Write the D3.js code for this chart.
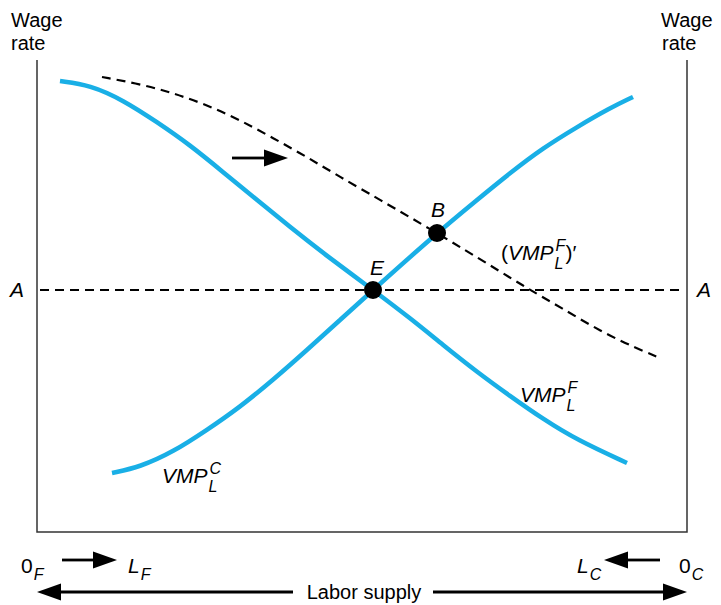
<!DOCTYPE html>
<html><head><meta charset="utf-8">
<script src="https://cdn.jsdelivr.net/npm/d3@7"></script>
<style>body{margin:0;background:#fff}svg{display:block}text{font-family:"Liberation Sans",Arial,sans-serif;fill:#000}</style>
</head><body>
<svg id="c" width="721" height="605"></svg>
<script>
// data (labor units measured from 0_F, wage units)
const vmpF = [[23,451],[53,447],[86,432],[120,410],[153,387],[186,360],[220,332],[253,305],[286,279],[336,242],[373,214],[406,187],[440,160],[473,136],[506,113],[540,92],[590,69]];
const vmpC = [[75,59],[103,65],[136,80],[170,102],[203,125],[236,152],[270,182],[303,212],[336,242],[400,299],[440,332],[473,359],[506,384],[540,405],[573,424],[596,435]];
const vmpFShift = [[65,455],[103,448],[136,439],[170,427],[203,412],[236,394],[270,375],[303,355],[340,334],[400,299],[456,265],[488,245],[523,225],[573,195],[623,174]];
const wageA = 242;
const points = [{name:"E", x:336, y:242},{name:"B", x:400, y:299}];
const laborTotal = 650, wageMax = 472;

const svg = d3.select("#c");
const x = d3.scaleLinear().domain([0, laborTotal]).range([37, 687]);
const y = d3.scaleLinear().domain([0, wageMax]).range([532, 60]);

// frame
svg.append("path").attr("d", `M${x(0)},${y(wageMax)}V${y(0)}H${x(laborTotal)}V${y(wageMax)}`)
  .attr("fill","none").attr("stroke","#333").attr("stroke-width",1.5);

// A line
svg.append("line").attr("x1", x(3)).attr("x2", x(laborTotal-3)).attr("y1", y(wageA)).attr("y2", y(wageA))
  .attr("stroke","#000").attr("stroke-width",2.2).attr("stroke-dasharray","9,6");

const line = d3.line().x(d=>x(d[0])).y(d=>y(d[1])).curve(d3.curveBasis);
svg.append("path").attr("d", line(vmpFShift)).attr("fill","none").attr("stroke","#000").attr("stroke-width",2.2).attr("stroke-dasharray","9,6");
svg.append("path").attr("d", line(vmpF)).attr("fill","none").attr("stroke","#19afe6").attr("stroke-width",4.5);
svg.append("path").attr("d", line(vmpC)).attr("fill","none").attr("stroke","#19afe6").attr("stroke-width",4.5);

svg.selectAll("circle.pt").data(points).enter().append("circle")
  .attr("cx", d=>x(d.x)).attr("cy", d=>y(d.y)).attr("r", 9).attr("fill","#000");

// arrows
function arrow(x1,y1,x2,y2){
  const ang = Math.atan2(y2-y1,x2-x1), L=24, W=8.5;
  const bx = x2 - L*Math.cos(ang), by = y2 - L*Math.sin(ang);
  svg.append("line").attr("x1",x1).attr("y1",y1).attr("x2",bx).attr("y2",by).attr("stroke","#000").attr("stroke-width",2.8);
  svg.append("path").attr("d",`M${x2},${y2}L${bx - W*Math.sin(ang)},${by + W*Math.cos(ang)}L${bx + W*Math.sin(ang)},${by - W*Math.cos(ang)}Z`).attr("fill","#000");
}
arrow(232,158,288,158);
arrow(62,560,117,560);
arrow(660,560,604,560);
arrow(293,592,37,592);
arrow(433,592,687,592);

const fs = 20;
function txt(t,xx,yy,opt={}){
  const e = svg.append("text").attr("x",xx).attr("y",yy).attr("font-size",opt.size||fs).text(t);
  if(opt.italic) e.attr("font-style","italic");
  if(opt.anchor) e.attr("text-anchor",opt.anchor);
  return e;
}
txt("Wage",11,27); txt("rate",11,50);
txt("Wage",661,27); txt("rate",662,50);
txt("A",10,297,{italic:true,size:21}); txt("A",697,297,{italic:true,size:21});
txt("E",370,275,{italic:true,size:21}); txt("B",431,217,{italic:true,size:21});
txt("Labor supply",364,599,{anchor:"middle"});

function sub(base,subT,xx,yy,italicBase){
  const e = txt(base,xx,yy,{italic:italicBase,size:21});
  const w = e.node().getComputedTextLength();
  txt(subT,xx+w+1,yy+7,{size:16,italic:true});
}
sub("0","F",21,573,false);
sub("0","C",679,573,false);
sub("L","F",128,573,true);
sub("L","C",577,573,true);

function vmp(xx,yy,sup,paren){
  let cx = xx;
  if(paren){ const p = txt("(",cx,yy,{size:21}); cx += p.node().getComputedTextLength(); }
  const e = txt("VMP",cx,yy,{italic:true,size:21});
  const w = e.node().getComputedTextLength();
  txt(sup,cx+w+2,yy-9,{size:16,italic:true});
  txt("L",cx+w+1,yy+9,{size:16,italic:true});
  if(paren){ txt(")′",cx+w+12,yy,{size:21}); }
}
vmp(520,402,"F",false);
vmp(162,483,"C",false);
vmp(501,260,"F",true);
</script>
</body></html>
